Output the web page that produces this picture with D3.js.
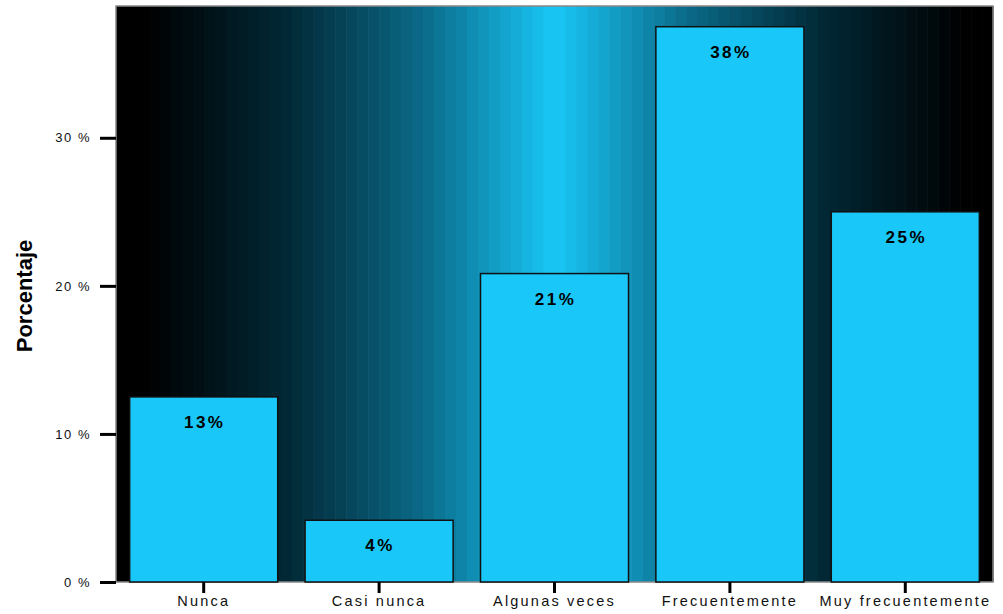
<!DOCTYPE html>
<html>
<head>
<meta charset="utf-8">
<script src="https://cdn.jsdelivr.net/npm/d3@7/dist/d3.min.js"></script>
<style>
html,body{margin:0;padding:0;background:#fff;}
svg{display:block;}
</style>
</head>
<body>
<svg id="chart" width="1003" height="614"></svg>
<script>
const categories = ["Nunca","Casi nunca","Algunas veces","Frecuentemente","Muy frecuentemente"];
const values = [12.5, 4.17, 20.83, 37.5, 25.0];
const valueLabels = ["13%","4%","21%","38%","25%"];
const yTicks = [0,10,20,30];
const yTickLabels = ["0 %","10 %","20 %","30 %"];

const svg = d3.select("#chart");
const m = {left:116, right:10, top:6, bottom:32};
const W = 1003, H = 614;
const pw = W - m.left - m.right, ph = H - m.top - m.bottom;

const x = d3.scaleBand().domain(categories).range([0,pw]).paddingInner(0.156).paddingOuter(0.078);
const y = d3.scaleLinear().domain([0,38.9]).range([ph,0]);

const g = svg.append("g").attr("transform",`translate(${m.left},${m.top})`);

// banded background: black -> cyan -> black
const bandCol = d3.scaleLinear()
  .domain([0,0.035,0.2,0.35,0.5,0.65,0.8,0.965,1])
  .range(["#000000","#000000","#022a38","#0a6a88","#19c8f7","#0a6a88","#022a38","#000000","#000000"])
  .interpolate(d3.interpolateRgb);
const nStripes = 80;
const sw = pw / nStripes;
g.append("g").selectAll("rect").data(d3.range(nStripes)).join("rect")
  .attr("x",i=>i*sw).attr("y",0).attr("width",sw+0.6).attr("height",ph)
  .attr("fill",i=>bandCol((i+0.5)/nStripes));

// plot border
g.append("rect").attr("x",0).attr("y",0).attr("width",pw).attr("height",ph)
  .attr("fill","none").attr("stroke","#888").attr("stroke-width",1.5);

// bars
g.append("g").selectAll("rect").data(categories).join("rect")
  .attr("x",d=>x(d)).attr("width",x.bandwidth())
  .attr("y",(d,i)=>y(values[i])).attr("height",(d,i)=>ph - y(values[i]))
  .attr("fill","#19c8f8").attr("stroke","#111").attr("stroke-width",1.5);

// value labels
g.append("g").selectAll("text").data(categories).join("text")
  .attr("x",d=>x(d)+x.bandwidth()/2 + 1)
  .attr("y",(d,i)=>y(values[i])+31)
  .attr("text-anchor","middle")
  .attr("font-family","Liberation Sans, Arial, sans-serif")
  .attr("font-weight","bold").attr("font-size","17px")
  .attr("letter-spacing","2.5px").attr("fill","#000")
  .text((d,i)=>valueLabels[i]);

// y axis
const yAxis = d3.axisLeft(y).tickValues(yTicks).tickSize(16).tickPadding(9)
  .tickFormat((d,i)=>yTickLabels[i]);
const ya = g.append("g").call(yAxis);
ya.select(".domain").remove();
ya.selectAll(".tick line").attr("stroke","#000").attr("stroke-width",3);
ya.selectAll(".tick text").attr("font-family","Liberation Sans, Arial, sans-serif")
  .attr("font-size","13px").attr("letter-spacing","1.5px").attr("fill","#111");

// x axis
const xAxis = d3.axisBottom(x).tickSize(11).tickPadding(3);
const xa = g.append("g").attr("transform",`translate(0,${ph})`).call(xAxis);
xa.select(".domain").remove();
xa.selectAll(".tick line").attr("stroke","#000").attr("stroke-width",3);
xa.selectAll(".tick text").attr("font-family","Liberation Sans, Arial, sans-serif")
  .attr("font-size","14.5px").attr("letter-spacing","2.2px").attr("fill","#111")
  .attr("dy","0.71em");

// y title
svg.append("text").attr("transform","translate(32,296) rotate(-90)")
  .attr("text-anchor","middle")
  .attr("font-family","Liberation Sans Narrow, Arial Narrow, Liberation Sans, sans-serif")
  .attr("font-weight","bold").attr("font-size","22px").attr("fill","#000")
  .text("Porcentaje");
</script>
</body>
</html>
